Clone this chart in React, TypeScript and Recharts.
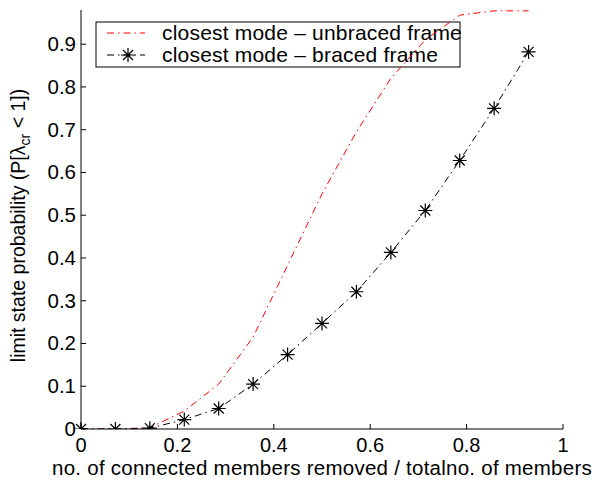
import React from "react"
import { LineChart, Line, XAxis, YAxis, Label, Customized } from "recharts"

// fraction of connected members removed (1/14 steps)
const removedFraction = [0, 0.0714, 0.1429, 0.2143, 0.2857, 0.3571, 0.4286, 0.5, 0.5714, 0.6429, 0.7143, 0.7857, 0.8571, 0.9286]
const unbracedProb = [0, 0, 0.003, 0.042, 0.105, 0.215, 0.383, 0.55, 0.695, 0.82, 0.91, 0.968, 0.978, 0.978]
const bracedProb = [0, 0, 0.002, 0.022, 0.048, 0.105, 0.174, 0.247, 0.321, 0.413, 0.511, 0.628, 0.75, 0.882]

const xTicks = [0, 0.2, 0.4, 0.6, 0.8, 1]
const yTicks = [0, 0.1, 0.2, 0.3, 0.4, 0.5, 0.6, 0.7, 0.8, 0.9]

const unbracedName = "closest mode \u2013 unbraced frame"
const bracedName = "closest mode \u2013 braced frame"

const chartData = removedFraction.map((x, i) => ({
  x,
  unbraced: unbracedProb[i],
  braced: bracedProb[i],
}))

const FONT = "'Liberation Sans', Arial, sans-serif"
const DASH_DOT = "7 4 1.5 4"

const Star = ({ cx, cy }: any) => {
  if (cx == null || cy == null) return null
  const r = 7
  const d = 5
  return (
    <path
      d={`M${cx - r},${cy}H${cx + r}M${cx},${cy - r}V${cy + r}M${cx - d},${cy - d}L${cx + d},${cy + d}M${cx - d},${cy + d}L${cx + d},${cy - d}`}
      stroke="#000"
      strokeWidth={1.2}
      fill="none"
    />
  )
}

const BottomTick = ({ x, y, payload }: any) => (
  <g>
    <line x1={x} x2={x} y1={y} y2={y - 5} stroke="#000" />
    <text x={x} y={y + 23} textAnchor="middle" fontSize={20} fontFamily={FONT} fill="#000">
      {String(payload.value)}
    </text>
  </g>
)

const TopTick = ({ x, y }: any) => <line x1={x} x2={x} y1={y} y2={y + 5} stroke="#000" />

const LeftTick = ({ x, y, payload }: any) => (
  <g>
    <line x1={x} x2={x + 5} y1={y} y2={y} stroke="#000" />
    <text x={x - 5} y={y + 7} textAnchor="end" fontSize={20.5} fontFamily={FONT} fill="#000">
      {String(payload.value)}
    </text>
  </g>
)

const RightTick = ({ x, y }: any) => <line x1={x} x2={x - 5} y1={y} y2={y} stroke="#000" />

const XTitle = ({ viewBox }: any) => (
  <text
    x={viewBox.x + viewBox.width / 2}
    y={viewBox.y + 46}
    textAnchor="middle"
    fontSize={20.5}
    letterSpacing={0.25}
    fontFamily={FONT}
    fill="#000"
  >
    no. of connected members removed / totalno. of members
  </text>
)

const YTitle = ({ viewBox }: any) => {
  const cx = 25
  const cy = viewBox.y + viewBox.height / 2 + 6
  return (
    <text
      x={cx}
      y={cy}
      transform={`rotate(-90 ${cx} ${cy})`}
      textAnchor="middle"
      fontSize={19.5}
      fontFamily={FONT}
      fill="#000"
    >
      limit state probability (P[λ
      <tspan dy={5} fontSize={14}>cr</tspan>
      <tspan dy={-5}> &lt; 1])</tspan>
    </text>
  )
}

const LegendBox = () => (
  <g fontFamily={FONT} fontSize={21}>
    <rect x={96} y={22} width={364} height={45} fill="#fff" stroke="#000" />
    <line x1={107} x2={145} y1={33} y2={33} stroke="#ff0000" strokeDasharray={DASH_DOT} />
    <text x={162} y={40} fill="#000" letterSpacing={0.2}>{unbracedName}</text>
    <line x1={107} x2={145} y1={55} y2={55} stroke="#000" strokeDasharray={DASH_DOT} />
    <Star cx={128} cy={55} />
    <text x={162} y={62} fill="#000" letterSpacing={0.2}>{bracedName}</text>
  </g>
)

export default function App() {
  return (
    <div style={{ position: "absolute", left: 0, top: 0, background: "#fff" }}>
      <LineChart width={602} height={481} data={chartData} margin={{ top: 10, right: 39, left: 11, bottom: 0 }}>
        <XAxis
          xAxisId="bottom"
          dataKey="x"
          type="number"
          domain={[0, 1]}
          ticks={xTicks}
          interval={0}
          height={52}
          tickSize={0}
          tickMargin={0}
          axisLine={{ stroke: "#000" }}
          tickLine={false}
          tick={<BottomTick />}
        >
          <Label content={<XTitle />} />
        </XAxis>
        <XAxis
          xAxisId="top"
          orientation="top"
          dataKey="x"
          type="number"
          domain={[0, 1]}
          ticks={xTicks}
          interval={0}
          height={0}
          tickSize={0}
          tickMargin={0}
          axisLine={{ stroke: "#000" }}
          tickLine={false}
          tick={<TopTick />}
        />
        <YAxis
          yAxisId="left"
          type="number"
          domain={[0, 0.98]}
          allowDataOverflow
          ticks={yTicks}
          interval={0}
          width={70}
          tickSize={0}
          tickMargin={0}
          axisLine={{ stroke: "#000" }}
          tickLine={false}
          tick={<LeftTick />}
        >
          <Label content={<YTitle />} />
        </YAxis>
        <YAxis
          yAxisId="right"
          orientation="right"
          type="number"
          domain={[0, 0.98]}
          allowDataOverflow
          ticks={yTicks}
          interval={0}
          width={0}
          tickSize={0}
          tickMargin={0}
          axisLine={{ stroke: "#000" }}
          tickLine={false}
          tick={<RightTick />}
        />
        <Line
          xAxisId="bottom"
          yAxisId="left"
          type="linear"
          dataKey="unbraced"
          name={unbracedName}
          stroke="#ff0000"
          strokeWidth={1}
          strokeDasharray={DASH_DOT}
          dot={false}
          isAnimationActive={false}
        />
        <Line
          xAxisId="bottom"
          yAxisId="left"
          type="linear"
          dataKey="braced"
          name={bracedName}
          stroke="#000"
          strokeWidth={1}
          strokeDasharray={DASH_DOT}
          dot={<Star />}
          isAnimationActive={false}
        />
        <Customized component={<LegendBox />} />
      </LineChart>
    </div>
  )
}
